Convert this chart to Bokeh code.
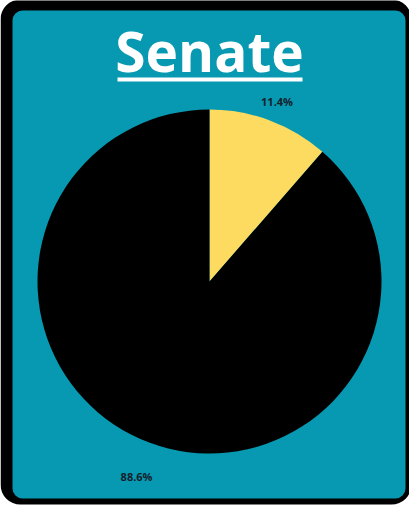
import math
from bokeh.plotting import figure
from bokeh.models import Range1d, BoxAnnotation, ColumnDataSource
from bokeh.core.properties import value
from bokeh.embed import file_html
from bokeh.resources import INLINE

title = "Senate"
categories = ["Yes", "No"]
shares = [11.4, 88.6]
labels = ["11.4%", "88.6%"]
colors = ["#FDDB60", "#000000"]
label_radius = [1.12, 1.21]

W, H = 409, 508
p = figure(width=W, height=H, output_backend="svg", toolbar_location=None,
           x_range=Range1d(0, W), y_range=Range1d(0, H), min_border=0)
p.axis.visible = False
p.grid.visible = False
p.outline_line_color = None
p.background_fill_color = "white"
p.border_fill_color = "white"

p.add_layout(BoxAnnotation(left=0, right=411, top=H + 1, bottom=4,
                           fill_color="black", fill_alpha=1, line_color=None,
                           border_radius=20, level="underlay"))
p.add_layout(BoxAnnotation(left=12, right=405, top=H - 10, bottom=10,
                           fill_color="#0799B1", fill_alpha=1, line_color=None,
                           border_radius=10, level="underlay"))

cx, cy, r = 209, 227, 172
total = sum(shares)
starts, ends, lx, ly = [], [], [], []
acc = 0.0
for s, lr in zip(shares, label_radius):
    a0 = math.pi / 2 - 2 * math.pi * acc / total
    a1 = math.pi / 2 - 2 * math.pi * (acc + s) / total
    starts.append(a1)
    ends.append(a0)
    mid = (a0 + a1) / 2
    lx.append(cx + lr * r * math.cos(mid))
    ly.append(cy + lr * r * math.sin(mid))
    acc += s

src = ColumnDataSource(dict(cat=categories, start=starts, end=ends, color=colors,
                            lx=lx, ly=ly, label=labels))
p.wedge(x=cx, y=cy, radius=r, start_angle="start", end_angle="end",
        fill_color="color", line_color=None, source=src)
p.text(x="lx", y="ly", text="label", source=src, text_font=value("Open Sans"),
       text_font_style="bold", text_font_size="11px", text_color="#15202b",
       text_align="center", text_baseline="middle")

p.text(x=[209], y=[458], text=[title], text_font=value("Open Sans"),
       text_font_style="bold", text_font_size="55px", text_color="white",
       text_align="center", text_baseline="middle")
p.segment(x0=[117], y0=[429], x1=[302], y1=[429], line_color="white", line_width=4)

open("out.html", "w").write(file_html(p, INLINE))
